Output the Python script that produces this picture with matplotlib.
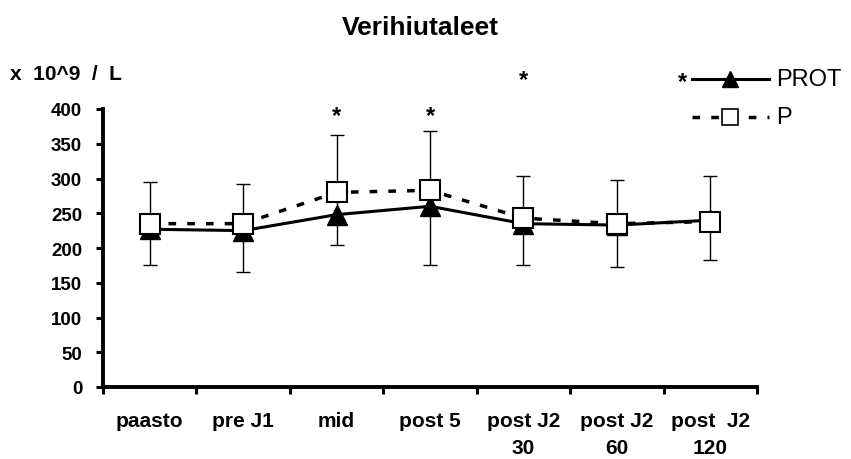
import matplotlib
matplotlib.use("Agg")
import matplotlib.pyplot as plt
from matplotlib.lines import Line2D
import numpy as np

plt.rcParams['font.family'] = ['Liberation Sans', 'DejaVu Sans']

categories = ["paasto", "pre J1", "mid", "post 5", "post J2\n30", "post J2\n60", "post  J2\n120"]
prot = [227, 225, 248, 260, 235, 233, 240]
p_vals = [235, 235, 280, 283, 243, 235, 238]
err_low = [176, 165, 205, 176, 175, 172, 183]
err_high = [295, 292, 363, 368, 303, 298, 303]
star_idx = [2, 3, 4]
star_vals = [391, 391, 443]
yticks = [0, 50, 100, 150, 200, 250, 300, 350, 400]

fig = plt.figure(figsize=(8.51, 4.6), dpi=100)
ax = fig.add_axes([103/851, 1-388/460, (757-103)/851, (388-110)/460])

x = np.arange(len(categories))
mid = [(l + h) / 2 for l, h in zip(err_low, err_high)]
ax.errorbar(x, mid, yerr=[np.array(mid) - np.array(err_low), np.array(err_high) - np.array(mid)],
            fmt='none', ecolor='black', elinewidth=1.0, capsize=5, capthick=1.0, zorder=1)

ax.plot(x, prot, color='black', lw=2.2, marker='^', markersize=15,
        markerfacecolor='black', markeredgecolor='black', zorder=3)
ax.plot(x, p_vals, color='black', lw=2.5, linestyle=(0, (2.2, 3.2)), marker='s', markersize=15,
        markerfacecolor='white', markeredgecolor='black', markeredgewidth=1.5, zorder=4)

for i, v in zip(star_idx, star_vals):
    ax.text(x[i], v, "*", ha='center', va='center', fontsize=17, fontweight='bold', clip_on=False)

ax.set_xlim(-0.5, len(categories) - 0.5)
ax.set_ylim(0, 400)
ax.set_yticks(yticks)
ax.set_yticklabels([str(t) for t in yticks], fontsize=13.5, fontweight='bold')
ax.set_xticks(np.arange(len(categories) + 1) - 0.5)
ax.set_xticklabels([])
ax.set_xticks(x, minor=True)
ax.set_xticklabels(categories, minor=True, fontsize=15, fontweight='bold', linespacing=1.55)
ax.tick_params(axis='x', which='minor', length=0, pad=17)
ax.tick_params(axis='x', which='major', direction='out', length=5, width=2.2)
ax.tick_params(axis='y', direction='out', length=5, width=2.2, pad=10)

for s in ['top', 'right']:
    ax.spines[s].set_visible(False)
for s in ['left', 'bottom']:
    ax.spines[s].set_linewidth(2.8)

fig.text(420/851, 1-28/460, "Verihiutaleet", ha='center', va='center', fontsize=19, fontweight='bold')
fig.text(10/851, 1-74/460, "x  10^9  /  L", ha='left', va='center', fontsize=15, fontweight='bold')

# legend
def fx(px): return px / 851
def fy(py): return 1 - py / 460
fig.text(fx(683), fy(83), "*", ha='center', va='center', fontsize=17, fontweight='bold')
fig.add_artist(Line2D([fx(692), fx(769)], [fy(80), fy(80)], color='black', lw=2.2))
fig.add_artist(Line2D([fx(730)], [fy(80)], marker='^', markersize=11, color='black', lw=0))
fig.text(fx(776), fy(80), "PROT", ha='left', va='center', fontsize=17)
fig.add_artist(Line2D([fx(692), fx(769)], [fy(118), fy(118)], color='black', lw=2.5,
                      linestyle=(0, (2.2, 3.2))))
fig.add_artist(Line2D([fx(730)], [fy(118)], marker='s', markersize=12, markerfacecolor='white',
                      markeredgecolor='black', markeredgewidth=1.2, lw=0))
fig.text(fx(776), fy(118), "P", ha='left', va='center', fontsize=17)

fig.savefig("out.png", dpi=100)
